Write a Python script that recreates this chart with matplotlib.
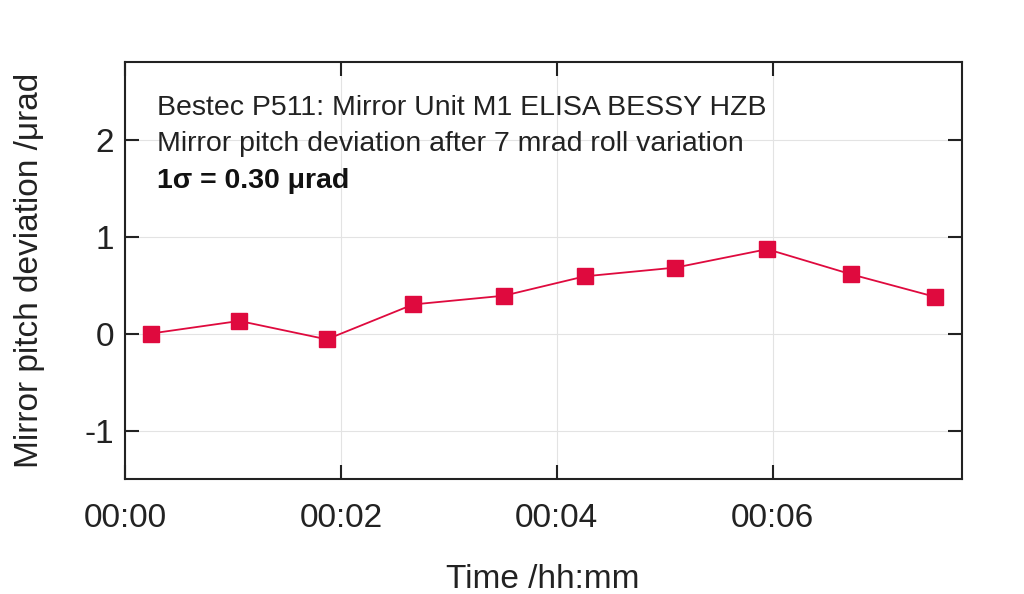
import numpy as np
import matplotlib.pyplot as plt
from matplotlib.ticker import FixedLocator, FuncFormatter

# time in minutes, pitch deviation in urad
t_min = [0.24, 1.06, 1.87, 2.67, 3.51, 4.26, 5.10, 5.95, 6.73, 7.50]
pitch = [0.00, 0.13, -0.06, 0.30, 0.39, 0.59, 0.68, 0.87, 0.61, 0.38]
xticks = [0, 2, 4, 6]
yticks = [-1, 0, 1, 2]
info = ["Bestec P511: Mirror Unit M1 ELISA BESSY HZB",
        "Mirror pitch deviation after 7 mrad roll variation"]
sigma_txt = "1\u03c3 = 0.30 \u03bcrad"

plt.rcParams['font.family'] = ['Liberation Sans', 'DejaVu Sans']
plt.rcParams['axes.unicode_minus'] = False
red = "#DF0A3E"
ink = "#222222"

fig = plt.figure(figsize=(10.24, 5.94), dpi=100)
ax = fig.add_axes([0.122, 0.1936, 0.817, 0.702])

ax.plot(t_min, pitch, color=red, lw=1.3, marker="s", ms=11, zorder=3)

ax.set_xlim(0, 7.75)
ax.set_ylim(-1.5, 2.8)
ax.xaxis.set_major_locator(FixedLocator(xticks))
ax.xaxis.set_major_formatter(FuncFormatter(lambda v, p: "%02d:%02d" % divmod(int(round(v)), 60)))
ax.yaxis.set_major_locator(FixedLocator(yticks))
ax.grid(True, color="#e3e3e3", lw=0.8)
ax.set_axisbelow(True)
ax.tick_params(direction="in", length=10, width=1.5, labelsize=24, pad=8,
               top=True, right=True, colors=ink)
ax.tick_params(axis="x", pad=17)
for s in ax.spines.values():
    s.set_linewidth(1.5)
    s.set_color(ink)

ax.set_xlabel("Time /hh:mm", fontsize=24, labelpad=22, color=ink)
ax.set_ylabel("Mirror pitch deviation /\u03bcrad", fontsize=24, labelpad=28, color=ink)

ax.text(0.038, 0.92, info[0], transform=ax.transAxes, fontsize=20.5, va="top", color=ink)
ax.text(0.038, 0.835, info[1], transform=ax.transAxes, fontsize=20.5, va="top", color=ink)
ax.text(0.038, 0.747, sigma_txt, transform=ax.transAxes, fontsize=20.5, va="top",
        fontweight="bold", color="#111111")

fig.savefig("out.png", dpi=100)
